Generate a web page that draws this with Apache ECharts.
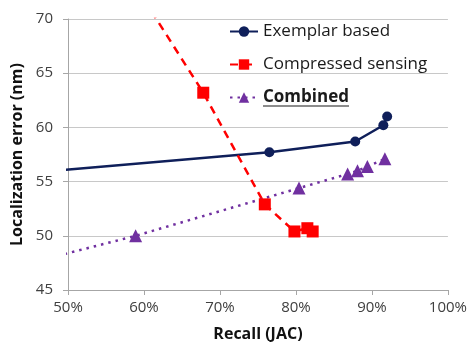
<!DOCTYPE html>
<html><head><meta charset="utf-8">
<script src="https://cdn.jsdelivr.net/npm/echarts@6/dist/echarts.min.js"></script>
<style>html,body{margin:0;padding:0;background:#fff}#c{width:470px;height:347px}</style>
</head><body><div id="c"></div>
<script>
const exemplarRecall = [30, 76.5, 87.8, 91.5, 92.0];
const exemplarError  = [54.9, 57.7, 58.7, 60.2, 61.0];
const csRecall = [60, 67.8, 75.9, 79.8, 81.5, 82.2];
const csError  = [71.8, 63.2, 52.9, 50.4, 50.7, 50.4];
const combRecall = [40, 58.9, 80.4, 86.8, 88.1, 89.4, 91.7];
const combError  = [46.6, 50.0, 54.4, 55.7, 56.0, 56.4, 57.1];
const seriesNames = ['Exemplar based', 'Compressed sensing', 'Combined'];
const xTitle = 'Recall (JAC)';
const yTitle = 'Localization error (nm)';

const zip = (a, b) => a.map((v, i) => [v, b[i]]);
const font = 'Open Sans';
const chart = echarts.init(document.getElementById('c'));
chart.setOption({
  animation: false,
  grid: {left: 68, right: 21, top: 19, bottom: 53},
  legend: {
    orient: 'vertical', left: 224, top: 18, itemGap: 16, itemWidth: 28, itemHeight: 13,
    data: seriesNames,
    textStyle: {fontFamily: font, fontSize: 17, color: '#1a1a1a',
      rich: {b: {fontFamily: font, fontSize: 17, fontWeight: 'bold', color: '#1a1a1a'}}},
    formatter: n => n === 'Combined' ? '{b|' + n + '}' : n
  },
  graphic: [{type: 'line', shape: {x1: 263, y1: 106, x2: 349, y2: 106},
    style: {stroke: '#1a1a1a', lineWidth: 1.2}}],
  xAxis: {
    type: 'value', min: 50, max: 100, interval: 10,
    name: xTitle, nameLocation: 'middle', nameGap: 36,
    nameTextStyle: {fontFamily: font, fontSize: 16, fontWeight: 'bold', color: '#111'},
    axisLine: {lineStyle: {color: '#a6a6a6'}},
    axisTick: {show: true, length: 5, lineStyle: {color: '#a6a6a6'}},
    axisLabel: {fontFamily: font, fontSize: 15, color: '#404040', margin: 10, formatter: v => v + '%'},
    splitLine: {show: false}
  },
  yAxis: {
    type: 'value', min: 45, max: 70, interval: 5,
    name: yTitle, nameLocation: 'middle', nameGap: 40,
    nameTextStyle: {fontFamily: font, fontSize: 16, fontWeight: 'bold', color: '#111'},
    axisLine: {show: true, lineStyle: {color: '#a6a6a6'}},
    axisTick: {show: true, length: 5, lineStyle: {color: '#a6a6a6'}},
    axisLabel: {fontFamily: font, fontSize: 15, color: '#404040', margin: 15},
    splitLine: {lineStyle: {color: '#c8c8c8', width: 1}}
  },
  series: [
    {name: seriesNames[0], type: 'line', data: zip(exemplarRecall, exemplarError),
     symbol: 'circle', symbolSize: 10, color: '#0f1f5a',
     lineStyle: {width: 2.5, color: '#0f1f5a'}, itemStyle: {color: '#0f1f5a'}},
    {name: seriesNames[1], type: 'line', data: zip(csRecall, csError),
     symbol: 'rect', symbolSize: 12, color: '#ff0000',
     lineStyle: {width: 2.5, type: [8, 6], color: '#ff0000'}, itemStyle: {color: '#ff0000'}},
    {name: seriesNames[2], type: 'line', data: zip(combRecall, combError),
     symbol: 'triangle', symbolSize: 13, color: '#7030a0',
     lineStyle: {width: 2.5, type: [2.5, 5], color: '#7030a0'}, itemStyle: {color: '#7030a0'}}
  ]
});
</script></body></html>
